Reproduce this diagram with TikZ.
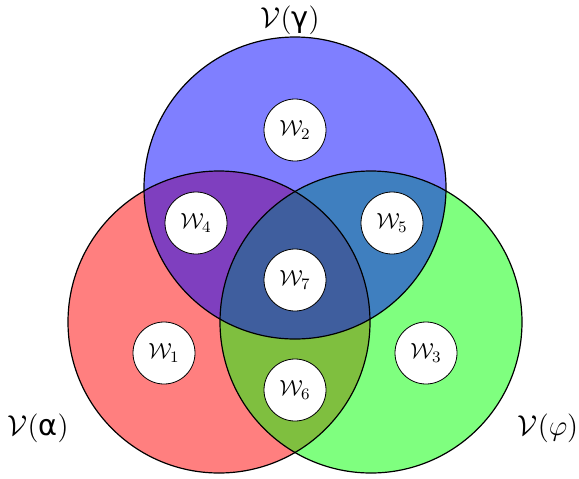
\documentclass[tikz,border=0pt]{standalone}
\usepackage{fontspec}
\newfontfamily\grk{DejaVu Sans}
\begin{document}
\begin{tikzpicture}[x=0.5pt,y=-0.5pt,
  big/.style={circle, minimum size=151pt, inner sep=0pt, fill opacity=0.5},
  ring/.style={circle, minimum size=151pt, inner sep=0pt, draw=black, line width=0.6pt},
  wset/.style={circle, draw=black, fill=white, minimum size=31pt, inner sep=0pt, font=\fontsize{11}{13}\selectfont},
  vlab/.style={font=\fontsize{14.4}{17}\selectfont, inner sep=0pt}]
\useasboundingbox (0,0) rectangle (579,478);
\node[big, fill=red] (R) at (219,322) {};
\node[big, fill=green] (G) at (371,322) {};
\node[big, fill=blue] (B) at (295,188) {};
\node[ring] (Ro) at (219,322) {};
\node[ring] (Go) at (371,322) {};
\node[ring] (Bo) at (295,188) {};
\node[wset] (w2) at (295,130) {$\mathcal{W}_2$};
\node[wset] (w4) at (196,223) {$\mathcal{W}_4$};
\node[wset] (w5) at (392,223) {$\mathcal{W}_5$};
\node[wset] (w7) at (295,280) {$\mathcal{W}_7$};
\node[wset] (w1) at (164,353) {$\mathcal{W}_1$};
\node[wset] (w3) at (426,353) {$\mathcal{W}_3$};
\node[wset] (w6) at (295,390) {$\mathcal{W}_6$};
\node[vlab] (lg) at (290,20) {$\mathcal{V}($\grk γ$)$};
\node[vlab] (la) at (38,428) {$\mathcal{V}($\grk α$)$};
\node[vlab] (lf) at (548,428) {$\mathcal{V}(\varphi)$};
\end{tikzpicture}
\end{document}
